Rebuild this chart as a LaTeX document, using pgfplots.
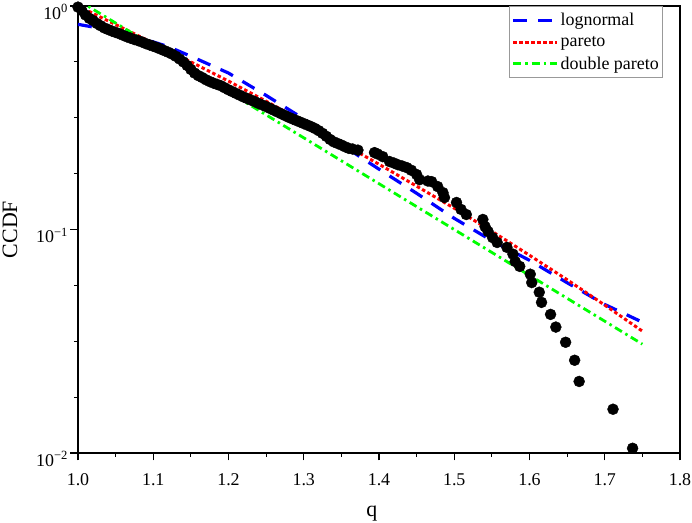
\documentclass[border=0pt]{standalone}
\usepackage{fontspec}
\setmainfont{Liberation Serif}
\usepackage{pgfplots}
\pgfplotsset{compat=1.18}
\usepackage{pgfplotstable}

\pgfplotstableread{
q c
1.000 0.9886
1.005 0.9550
1.010 0.9120
1.015 0.8810
1.020 0.8610
1.025 0.8356
1.030 0.8166
1.035 0.7980
1.040 0.7852
1.045 0.7727
1.050 0.7621
1.055 0.7516
1.060 0.7396
1.065 0.7278
1.070 0.7178
1.075 0.7079
1.080 0.6998
1.085 0.6902
1.090 0.6792
1.095 0.6699
1.100 0.6607
1.105 0.6516
1.110 0.6412
1.115 0.6310
1.120 0.6209
1.125 0.6095
1.130 0.5957
1.135 0.5794
1.140 0.5620
1.145 0.5420
1.150 0.5200
1.155 0.5010
1.160 0.4880
1.165 0.4786
1.170 0.4677
1.175 0.4592
1.180 0.4519
1.185 0.4457
1.190 0.4395
1.195 0.4305
1.200 0.4217
1.205 0.4140
1.210 0.4064
1.215 0.3990
1.220 0.3917
1.225 0.3855
1.230 0.3793
1.235 0.3733
1.240 0.3664
1.245 0.3606
1.250 0.3548
1.255 0.3483
1.260 0.3420
1.265 0.3357
1.270 0.3296
1.275 0.3236
1.280 0.3177
1.285 0.3126
1.290 0.3076
1.295 0.3027
1.300 0.2979
1.305 0.2931
1.310 0.2884
1.315 0.2831
1.320 0.2767
1.325 0.2692
1.330 0.2612
1.335 0.2529
1.340 0.2466
1.345 0.2427
1.350 0.2388
1.355 0.2344
1.360 0.2307
1.365 0.2291
1.372 0.2265
1.394 0.2208
1.398 0.2178
1.405 0.2118
1.414 0.2014
1.420 0.1982
1.425 0.1950
1.431 0.1923
1.437 0.1892
1.443 0.1841
1.450 0.1762
1.454 0.1671
1.465 0.1648
1.470 0.1637
1.478 0.1556
1.485 0.1462
1.487 0.1390
1.503 0.1321
1.509 0.1230
1.516 0.1167
1.538 0.1109
1.541 0.1030
1.545 0.0979
1.551 0.0920
1.557 0.0875
1.570 0.0832
1.578 0.0776
1.581 0.0719
1.587 0.0684
1.601 0.0631
1.603 0.0579
1.613 0.0524
1.616 0.0472
1.628 0.0417
1.635 0.0366
1.648 0.0313
1.660 0.0260
1.666 0.0209
1.711 0.0157
1.737 0.0105
}\datatab

\pgfplotstableread{
q c
1.00 0.8279
1.03 0.7943
1.06 0.7499
1.09 0.7079
1.12 0.6577
1.15 0.5957
1.20 0.5012
1.25 0.3981
1.30 0.3126
1.35 0.2399
1.40 0.1862
1.45 0.1452
1.50 0.1122
1.55 0.0891
1.60 0.0728
1.65 0.0578
1.70 0.0462
1.75 0.0385
}\logntab

\pgfplotstableread{
q c
1.00 1.0000
1.05 0.8260
1.10 0.6823
1.15 0.5623
1.20 0.4613
1.25 0.3750
1.30 0.3034
1.35 0.2443
1.40 0.1959
1.45 0.1563
1.50 0.1245
1.55 0.0982
1.60 0.0767
1.65 0.0596
1.70 0.0459
1.75 0.0351
}\paretotab

\pgfplotstableread{
q c
1.00 1.063
1.375 0.1804
1.75 0.0307
}\dparetotab

\begin{document}
\begin{tikzpicture}
\begin{axis}[
  name=ax,
  at={(0,0)}, anchor=south west,
  scale only axis,
  width=602bp, height=447bp,
  xmin=1, xmax=1.8,
  ymin=0.01, ymax=1,
  ymode=log,
  xtick={1.0,1.1,1.2,1.3,1.4,1.5,1.6,1.7,1.8},
  xticklabels={1.0,1.1,1.2,1.3,1.4,1.5,1.6,1.7,1.8},
  minor xtick={1.05,1.15,1.25,1.35,1.45,1.55,1.65,1.75},
  ytick={0.01,0.1,1},
  yticklabels={10\textsuperscript{−2},10\textsuperscript{−1},10\textsuperscript{0}},
  minor ytick={0.01778,0.03162,0.05623,0.1778,0.3162,0.5623},
  xtick pos=bottom, ytick pos=left,
  tick align=outside,
  major tick length=7.5bp, minor tick length=4bp,
  every tick/.style={black, line width=1.2bp},
  axis line style={line width=1.3bp},
  ticklabel style={font=\fontsize{18}{20}\selectfont},
  xticklabel style={yshift=-10bp},
  yticklabel style={yshift=-6bp, xshift=1bp},
  label style={font=\fontsize{22}{24}\selectfont},
  xlabel={q},
  ylabel={CCDF},
  x label style={at={(axis description cs:0.488,-0.136)}, anchor=center},
  y label style={at={(axis description cs:-0.113,0.5)}, anchor=center},
  legend style={at={(axis description cs:0.972,1)}, anchor=north east,
    draw=gray!80, line width=0.8bp, fill=white,
    font=\fontsize{18}{20}\selectfont, inner xsep=2bp, inner ysep=5bp,
    row sep=5bp},
  legend cell align=left,
  legend image code/.code={\draw[#1] (0bp,0bp) -- (44bp,0bp);},
]
\addplot[only marks, mark=*, mark size=5.5bp, black, forget plot] table[x=q,y=c] {\datatab};
\addplot[blue, line width=3.2bp, dash pattern=on 14bp off 11bp] table[x=q,y=c] {\logntab};
\addlegendentry{lognormal}
\addplot[red, line width=3bp, dash pattern=on 3.5bp off 2.5bp] table[x=q,y=c] {\paretotab};
\addlegendentry{pareto}
\addplot[green, line width=2.8bp, dash pattern=on 8bp off 4bp on 2.5bp off 4bp] table[x=q,y=c] {\dparetotab};
\addlegendentry{double pareto}
\end{axis}
\pgfresetboundingbox
\path (-78bp,-70bp) rectangle (614bp,453bp);
\end{tikzpicture}
\end{document}
